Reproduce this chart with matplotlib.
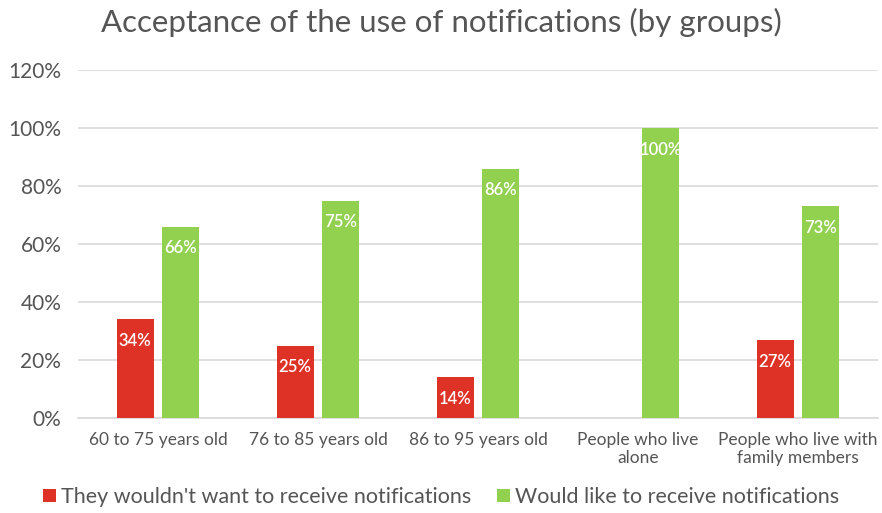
import numpy as np
import matplotlib.pyplot as plt

groups = ["60 to 75 years old", "76 to 85 years old", "86 to 95 years old",
          "People who live\nalone", "People who live with\nfamily members"]
no_notif = [34, 25, 14, 0, 27]
yes_notif = [66, 75, 86, 100, 73]
series_names = ["They wouldn't want to receive notifications",
                "Would like to receive notifications"]

red = "#DE3226"
green = "#92D050"
txt = "#555555"

plt.rcParams['font.family'] = ['Lato', 'DejaVu Sans']

fig = plt.figure(figsize=(8.82, 5.13), dpi=100)
ax = fig.add_axes([78 / 882, 1 - 418 / 513, 800 / 882, 348 / 513])

x = np.arange(len(groups))
w = 0.23
off = 0.143
bars_r = ax.bar(x - off, no_notif, w, color=red, label=series_names[0], zorder=3)
bars_g = ax.bar(x + off, yes_notif, w, color=green, label=series_names[1], zorder=3)

# value labels inside the top of each bar (skip zero-height bars)
for bars, vals in ((bars_r, no_notif), (bars_g, yes_notif)):
    for b, v in zip(bars, vals):
        if v == 0:
            continue
        ax.annotate(f"{v}%", (b.get_x() + b.get_width() / 2, v),
                    xytext=(0, -10), textcoords="offset points",
                    ha="center", va="top", color="white", fontsize=12,
                    fontweight="semibold", zorder=4)

ax.set_xlim(-0.5, 4.5)
ax.set_ylim(0, 120)
ax.set_yticks(range(0, 121, 20))
ax.set_yticklabels([f"{t}%" for t in range(0, 121, 20)], fontsize=15, color=txt)
ax.set_xticks(x)
ax.set_xticklabels(groups, fontsize=12.5, color=txt)
ax.tick_params(length=0)
ax.tick_params(axis="x", pad=10)
ax.tick_params(axis="y", pad=12)
ax.grid(axis="y", color="#D9D9D9", linewidth=1.2, zorder=0)
for s in ("top", "right", "left"):
    ax.spines[s].set_visible(False)
ax.spines["bottom"].set_color("#D9D9D9")
ax.spines["bottom"].set_linewidth(1.2)

fig.text(0.5, 1 - 22 / 513, "Acceptance of the use of notifications (by groups)",
         ha="center", va="center", fontsize=22.5, color=txt)

fig.legend(loc="center", bbox_to_anchor=(0.5, 1 - 497 / 513), ncol=2, frameon=False,
           fontsize=15.5, handlelength=0.6, handleheight=0.6, handletextpad=0.25,
           columnspacing=1.2, labelcolor=txt)

plt.savefig("out.png", dpi=100)
